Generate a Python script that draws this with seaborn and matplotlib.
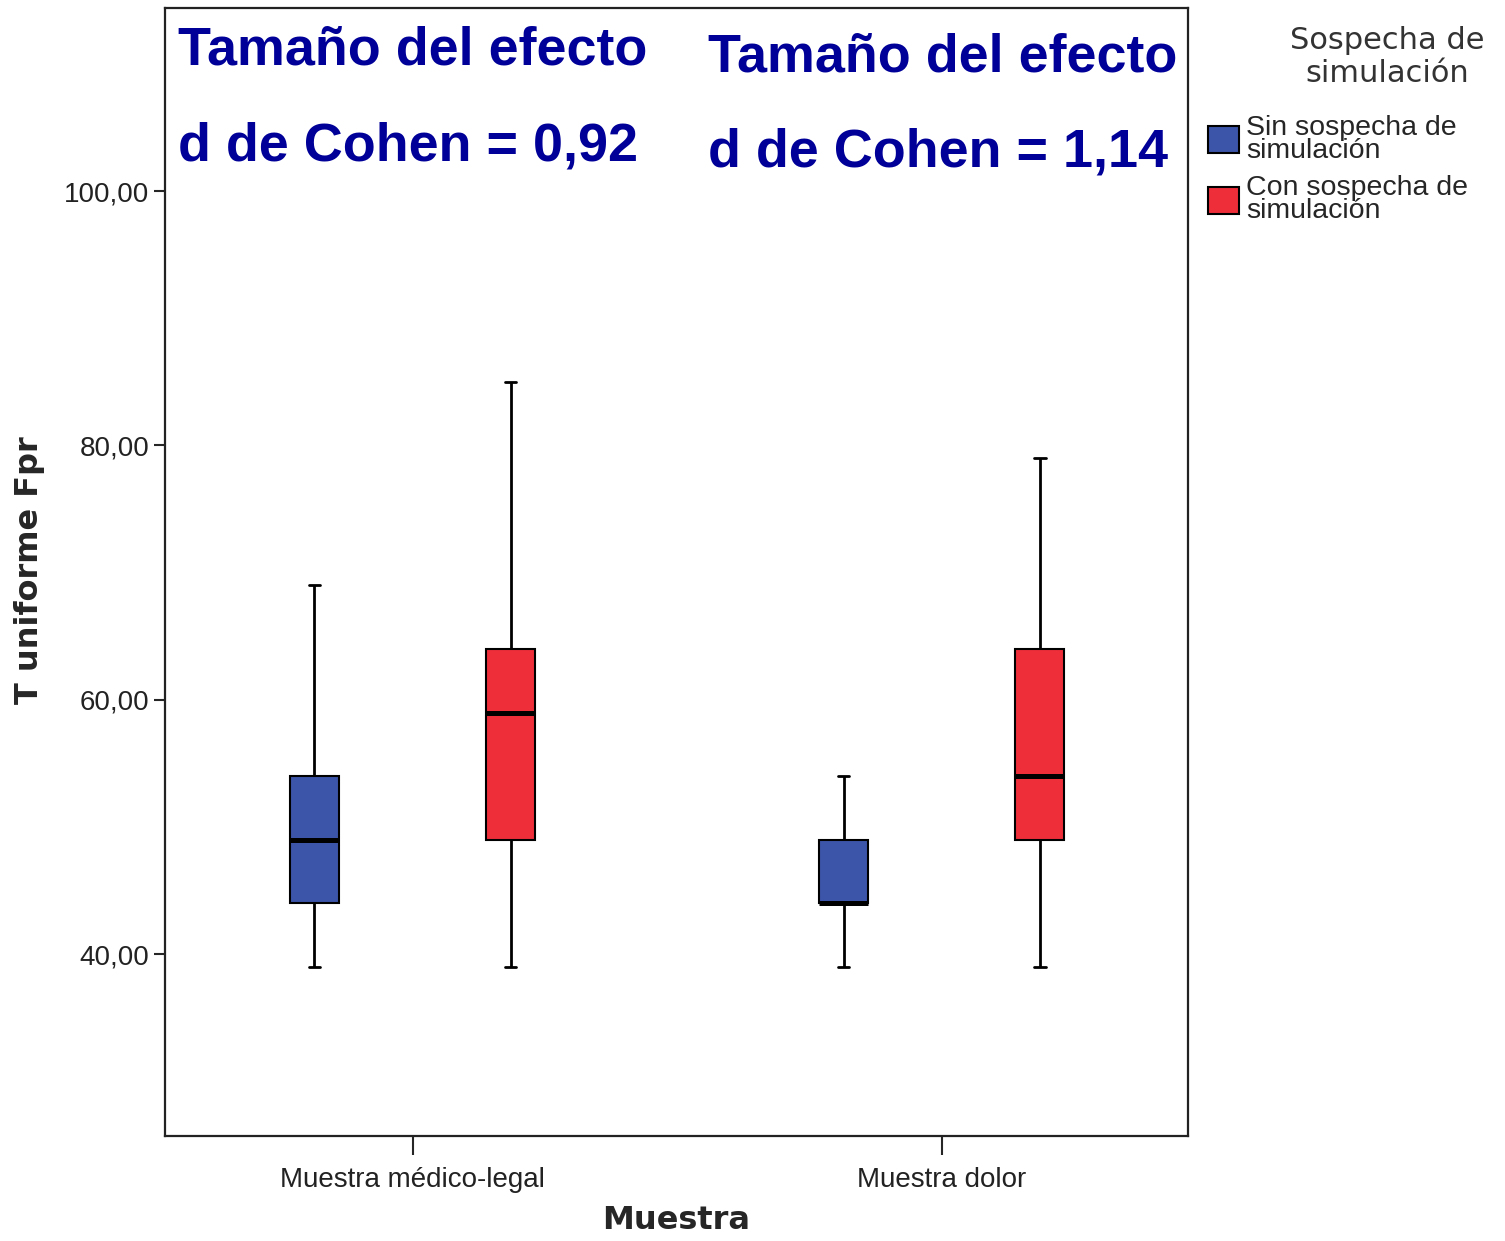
import pandas as pd
import seaborn as sns
import matplotlib.pyplot as plt

muestras = ["Muestra médico-legal", "Muestra dolor"]
grupos = ["Sin sospecha de\nsimulación", "Con sospecha de\nsimulación"]
colores = ["#3c55a8", "#ee2f3a"]

# min, Q1, mediana, Q3, max
sin_medlegal = [39, 44, 49, 54, 69]
con_medlegal = [39, 49, 59, 64, 85]
sin_dolor = [39, 44, 44, 49, 54]
con_dolor = [39, 49, 54, 64, 79]

yticks = [40, 60, 80, 100]
ytick_labels = ["40,00", "60,00", "80,00", "100,00"]

rows = []
for m, g, vals in [(muestras[0], grupos[0], sin_medlegal),
                   (muestras[0], grupos[1], con_medlegal),
                   (muestras[1], grupos[0], sin_dolor),
                   (muestras[1], grupos[1], con_dolor)]:
    for v in vals:
        rows.append({"Muestra": m, "Sospecha": g, "Fpr": v})
df = pd.DataFrame(rows)

sns.set_style("white")
plt.rcParams["font.family"] = ["Liberation Sans", "DejaVu Sans"]

fig = plt.figure(figsize=(15.05, 12.41), dpi=100)
ax = fig.add_axes([165 / 1505, 105 / 1241, 1023 / 1505, 1128 / 1241])

sns.boxplot(data=df, x="Muestra", y="Fpr", hue="Sospecha",
            order=muestras, hue_order=grupos, palette=colores, saturation=1,
            width=0.741, gap=0.748, whis=(0, 100),
            linecolor="black", linewidth=1.5,
            medianprops={"linewidth": 3.6},
            whiskerprops={"linewidth": 2},
            capprops={"linewidth": 2},
            capwidths=0.022, ax=ax)

ax.set_xlim(-0.4677, 1.4654)
ax.set_ylim(25.7, 114.4)
ax.set_yticks(yticks)
ax.set_yticklabels(ytick_labels)
for s in ax.spines.values():
    s.set_visible(True)
    s.set_linewidth(1.6)
    s.set_color("#222222")
ax.tick_params(axis="y", length=8, width=1.5, labelsize=20, labelcolor="#222222", left=True)
ax.tick_params(axis="x", length=14, width=1.5, labelsize=20, labelcolor="#222222", bottom=True, pad=8)

ax.set_xlabel("Muestra", fontsize=23, fontweight="bold", family="DejaVu Sans")
ax.xaxis.set_label_coords(0.5, -0.061)
ax.set_ylabel("T uniforme Fpr", fontsize=23, fontweight="bold", family="DejaVu Sans")
ax.yaxis.set_label_coords(-0.117, 0.502)

azul = "#000099"
ax.text(0.0127, 0.962, "Tamaño del efecto", transform=ax.transAxes, va="center",
        fontsize=38.8, fontweight="bold", color=azul)
ax.text(0.0127, 0.877, "d de Cohen = 0,92", transform=ax.transAxes, va="center",
        fontsize=38.8, fontweight="bold", color=azul)
ax.text(0.531, 0.956, "Tamaño del efecto", transform=ax.transAxes, va="center",
        fontsize=38.8, fontweight="bold", color=azul)
ax.text(0.531, 0.872, "d de Cohen = 1,14", transform=ax.transAxes, va="center",
        fontsize=38.8, fontweight="bold", color=azul)

fig.text(1387 / 1505, 1 - 57 / 1241, "Sospecha de\nsimulación", ha="center", va="center",
         fontsize=22, family="DejaVu Sans", color="#333333", linespacing=1.15)

handles, labels = ax.get_legend_handles_labels()
leg = ax.legend(handles, labels, loc="upper left",
                bbox_to_anchor=(1208 / 1505, 1 - 115 / 1241), bbox_transform=fig.transFigure,
                frameon=False, fontsize=20.5, handlelength=1.1, handleheight=1.1,
                handletextpad=0.25, labelspacing=0.4, borderpad=0, borderaxespad=0)
for t in leg.get_texts():
    t.set_linespacing(0.85)

fig.savefig("out.png", dpi=100)
